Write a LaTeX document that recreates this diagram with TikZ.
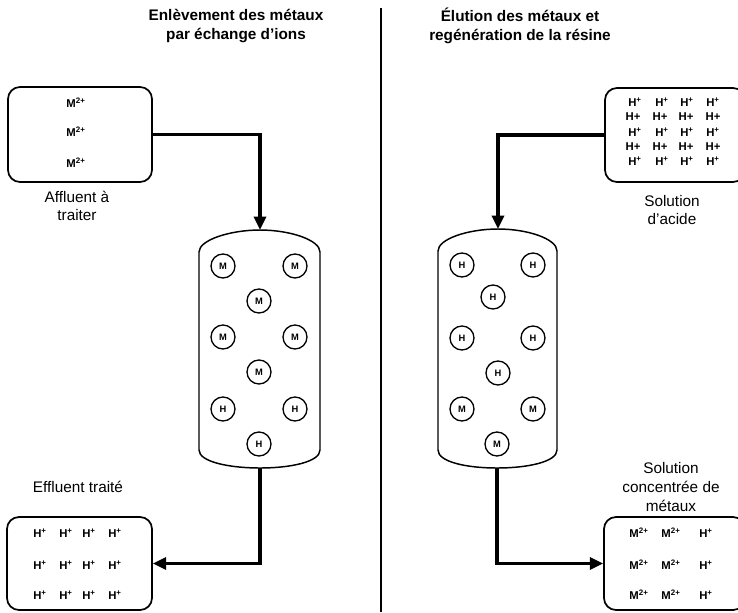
\documentclass[tikz,border=0pt]{standalone}
\usepackage{fontspec}
\setmainfont{Liberation Sans}
\usetikzlibrary{arrows.meta}

\tikzset{every picture/.style={line width=0.75pt}}
\tikzset{
  ionbox/.style={draw, rounded corners=9pt, line width=1.3pt, inner sep=0pt},
  ion/.style={inner sep=0.75pt, font=\bfseries\fontsize{8.5}{9}\selectfont},
  bead/.style={circle, draw, line width=1pt, minimum size=18pt, inner sep=0pt, font=\bfseries\fontsize{7}{8}\selectfont},
  lbl/.style={inner sep=0.75pt, align=center, font=\fontsize{11.5}{14}\selectfont},
  ttl/.style={inner sep=0.75pt, align=center, font=\bfseries\fontsize{11.5}{14}\selectfont},
  flow/.style={line width=2.4pt, -{Triangle[length=10pt,width=9pt]}},
  column/.style={line width=1.1pt}
}

\begin{document}
\begin{tikzpicture}[x=0.75pt,y=0.75pt,yscale=-1,xscale=1]
\useasboundingbox (0,0) rectangle (738,612);

% Text Node
\node (ttlA) [ttl] at (236,26) {Enlèvement des métaux\\par échange d'ions};
% Text Node
\node (ttlB) [ttl] at (520,26) {Élution des métaux et\\regénération de la résine};

%Straight Lines [id:divider]
\coordinate (divT) at (381,8);
\coordinate (divB) at (381,612);
\draw [line width=1.1pt] (divT) -- (divB);

%Shape: Rounded Rect [id:affl]
\node (affl) [ionbox, minimum width=108pt, minimum height=71.25pt] at (80,134.5) {};
\node (affl1) [ion] at (76,103) {M\textsuperscript{2+}};
\node (affl2) [ion] at (76,132) {M\textsuperscript{2+}};
\node (affl3) [ion] at (76,163) {M\textsuperscript{2+}};
% Text Node
\node (lblAffl) [lbl] at (77,206) {Affluent à\\traiter};

%Shape: Rounded Rect [id:acide]
\node (acide) [ionbox, minimum width=105pt, minimum height=70.5pt] at (675,135) {};
\node (ac11) [ion] at (635,102) {H\textsuperscript{+}};
\node (ac12) [ion] at (662,102) {H\textsuperscript{+}};
\node (ac13) [ion] at (687,102) {H\textsuperscript{+}};
\node (ac14) [ion] at (713,102) {H\textsuperscript{+}};
\node (ac21) [ion] at (633,117) {H+};
\node (ac22) [ion] at (660,117) {H+};
\node (ac23) [ion] at (686,117) {H+};
\node (ac24) [ion] at (713,117) {H+};
\node (ac31) [ion] at (635,132) {H\textsuperscript{+}};
\node (ac32) [ion] at (662,132) {H\textsuperscript{+}};
\node (ac33) [ion] at (687,132) {H\textsuperscript{+}};
\node (ac34) [ion] at (713,132) {H\textsuperscript{+}};
\node (ac41) [ion] at (633,147) {H+};
\node (ac42) [ion] at (660,147) {H+};
\node (ac43) [ion] at (686,147) {H+};
\node (ac44) [ion] at (713,147) {H+};
\node (ac51) [ion] at (635,161) {H\textsuperscript{+}};
\node (ac52) [ion] at (662,161) {H\textsuperscript{+}};
\node (ac53) [ion] at (687,161) {H\textsuperscript{+}};
\node (ac54) [ion] at (713,161) {H\textsuperscript{+}};
% Text Node
\node (lblAcide) [lbl] at (672,210) {Solution\\d'acide};

%Shape: Column [id:colA]
\coordinate (colAtop) at (260,230);
\coordinate (colAbot) at (260,468);
\draw [column] (199,252) .. controls (199,240) and (230,230) .. (colAtop) .. controls (290,230) and (320,240) .. (320,252) -- (320,450) .. controls (320,462) and (290,468) .. (colAbot) .. controls (230,468) and (199,462) .. (199,450) -- cycle ;
\node (bA1) [bead] at (223,266) {M};
\node (bA2) [bead] at (295,266) {M};
\node (bA3) [bead] at (259,301) {M};
\node (bA4) [bead] at (223,337) {M};
\node (bA5) [bead] at (295,337) {M};
\node (bA6) [bead] at (259,372) {M};
\node (bA7) [bead] at (223,409) {H};
\node (bA8) [bead] at (295,409) {H};
\node (bA9) [bead] at (259,444) {H};

%Shape: Column [id:colB]
\coordinate (colBtop) at (498,229);
\coordinate (colBbot) at (497,468);
\draw [column] (438,251) .. controls (438,239) and (468,229) .. (colBtop) .. controls (528,229) and (557,239) .. (557,251) -- (557,450) .. controls (557,462) and (527,468) .. (colBbot) .. controls (467,468) and (438,462) .. (438,450) -- cycle ;
\node (bB1) [bead] at (462,265) {H};
\node (bB2) [bead] at (533,265) {H};
\node (bB3) [bead] at (493,297) {H};
\node (bB4) [bead] at (462,338) {H};
\node (bB5) [bead] at (533,338) {H};
\node (bB6) [bead] at (498,373) {H};
\node (bB7) [bead] at (462,409) {M};
\node (bB8) [bead] at (533,409) {M};
\node (bB9) [bead] at (497,444) {M};

%Shape: Rounded Rect [id:effl]
\node (effl) [ionbox, minimum width=108.75pt, minimum height=69.75pt] at (79.5,563.5) {};
\node (ef11) [ion] at (40,533) {H\textsuperscript{+}};
\node (ef12) [ion] at (66,533) {H\textsuperscript{+}};
\node (ef13) [ion] at (89,533) {H\textsuperscript{+}};
\node (ef14) [ion] at (115,533) {H\textsuperscript{+}};
\node (ef21) [ion] at (40,565) {H\textsuperscript{+}};
\node (ef22) [ion] at (66,565) {H\textsuperscript{+}};
\node (ef23) [ion] at (89,565) {H\textsuperscript{+}};
\node (ef24) [ion] at (115,565) {H\textsuperscript{+}};
\node (ef31) [ion] at (40,595) {H\textsuperscript{+}};
\node (ef32) [ion] at (66,595) {H\textsuperscript{+}};
\node (ef33) [ion] at (89,595) {H\textsuperscript{+}};
\node (ef34) [ion] at (115,595) {H\textsuperscript{+}};
% Text Node
\node (lblEffl) [lbl] at (78,487) {Effluent traité};

%Shape: Rounded Rect [id:conc]
\node (conc) [ionbox, minimum width=105.75pt, minimum height=69.75pt] at (674.5,563.5) {};
\node (cc11) [ion] at (639,533) {M\textsuperscript{2+}};
\node (cc12) [ion] at (671,533) {M\textsuperscript{2+}};
\node (cc13) [ion] at (706,533) {H\textsuperscript{+}};
\node (cc21) [ion] at (639,565) {M\textsuperscript{2+}};
\node (cc22) [ion] at (671,565) {M\textsuperscript{2+}};
\node (cc23) [ion] at (706,565) {H\textsuperscript{+}};
\node (cc31) [ion] at (639,595) {M\textsuperscript{2+}};
\node (cc32) [ion] at (671,595) {M\textsuperscript{2+}};
\node (cc33) [ion] at (706,595) {H\textsuperscript{+}};
% Text Node
\node (lblConc) [lbl] at (671,487) {Solution\\concentrée de\\métaux};

%Straight Lines [id:flows]
\draw [flow] (affl.east) -| (colAtop);
\draw [flow] (acide.west) -| (colBtop);
\draw [flow] (colAbot) |- (effl.east);
\draw [flow] (colBbot) |- (conc.west);

\end{tikzpicture}
\end{document}
